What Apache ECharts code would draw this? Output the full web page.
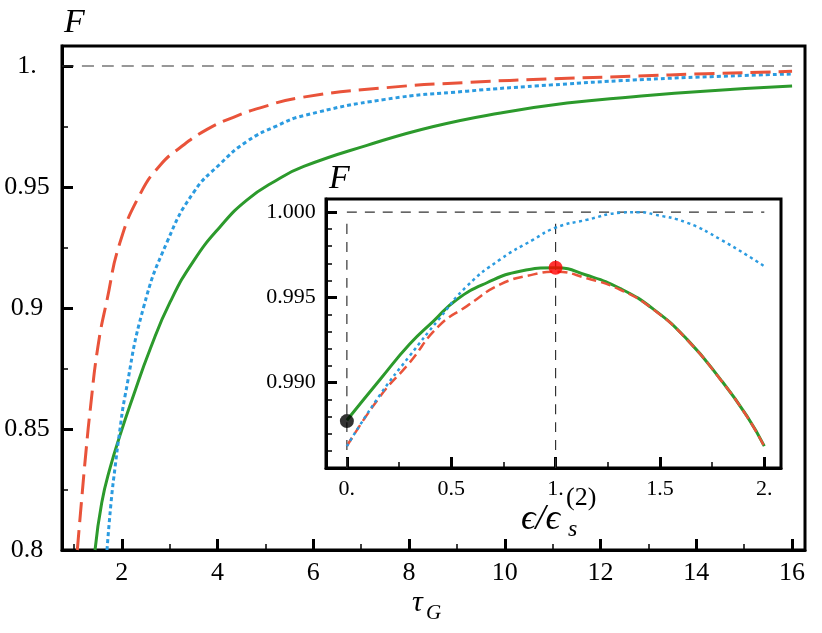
<!DOCTYPE html>
<html><head><meta charset="utf-8">
<script src="https://cdn.jsdelivr.net/npm/echarts@6/dist/echarts.min.js"></script>
<style>html,body{margin:0;padding:0;background:#fff}#c{width:822px;height:633px}</style>
</head><body><div id="c"></div><script>
// ---- main panel: ticks ----
const mainXTicks = [2, 4, 6, 8, 10, 12, 14, 16];
const mainXMinor = [1, 3, 5, 7, 9, 11, 13, 15];
const mainYTicks = [0.8, 0.85, 0.9, 0.95, 1.0];
const mainYTickLabels = ['0.8', '0.85', '0.9', '0.95', '1.'];
const mainYMinor = [0.825, 0.875, 0.925, 0.975];
// ---- main panel: curves F(tau_G) ----
const mainRed = [[1.07,0.8],[1.16,0.8207],[1.25,0.8405],[1.34,0.858],[1.50,0.884],[1.69,0.9033],[1.96,0.927],[2.38,0.947],[2.80,0.959],[3.22,0.9663],[3.78,0.9738],[4.33,0.9788],[4.89,0.9827],[5.72,0.9869],[7.5,0.991],[9.21,0.9932],[11,0.9947],[12.69,0.9958],[14.2,0.9968],[16,0.9978]];
const mainBlue = [[1.69,0.8],[1.78,0.8207],[1.86,0.8344],[1.95,0.8483],[2.07,0.864],[2.45,0.900],[2.95,0.9275],[3.50,0.9478],[4.05,0.9595],[4.61,0.9688],[5.24,0.9753],[5.8,0.9795],[7.5,0.9862],[9.21,0.9896],[11,0.9922],[12.69,0.9942],[14.3,0.9956],[16,0.9967]];
const mainGreen = [[1.44,0.8],[1.58,0.8195],[1.756,0.8340],[1.98,0.8485],[2.21,0.862],[2.6,0.8835],[3.01,0.9025],[3.50,0.9195],[4.05,0.9335],[4.61,0.9446],[5.24,0.9529],[5.8,0.9585],[7.12,0.9672],[8.51,0.975],[9.91,0.9806],[11.3,0.9847],[12.69,0.9873],[14.08,0.9895],[16,0.9917]];
const mainRef = [[0.75,1.0],[16,1.0]];
// ---- inset: ticks ----
const insetXTicks = [0, 0.5, 1, 1.5, 2];
const insetXTickLabels = ['0.', '0.5', '1.', '1.5', '2.'];
const insetXMinor = [0.25, 0.75, 1.25, 1.75];
const insetYTicks = [0.990, 0.995, 1.000];
const insetYTickLabels = ['0.990', '0.995', '1.000'];
const insetYMinor = [0.986,0.987,0.988,0.989,0.991,0.992,0.993,0.994,0.996,0.997,0.998,0.999];
// ---- inset: curves F(eps/eps_s) ----
const insetGreen = [[0,0.9878],[0.16,0.9902],[0.30,0.99225],[0.415,0.99361],[0.527,0.99488],[0.671,0.99586],[0.83,0.99654],[1.0,0.99674],[1.15,0.9963],[1.31,0.99552],[1.47,0.9943],[1.63,0.99254],[1.79,0.9902],[1.917,0.98804],[2.0,0.98628]];
const insetRed = [[0,0.98628],[0.16,0.98921],[0.30,0.99117],[0.44,0.99332],[0.575,0.99449],[0.735,0.99576],[0.895,0.99635],[1.0,0.99651],[1.15,0.99612],[1.31,0.99545],[1.47,0.99428],[1.63,0.99252],[1.79,0.99018],[1.917,0.98802],[2.0,0.98626]];
const insetBlue = [[0,0.98628],[0.16,0.98931],[0.30,0.99156],[0.44,0.99371],[0.575,0.99566],[0.735,0.99723],[0.895,0.9984],[1.0,0.99909],[1.15,0.99955],[1.31,0.99996],[1.4,1.0],[1.47,0.99987],[1.63,0.99938],[1.79,0.9984],[2.0,0.99683]];
const insetRefH = [[0,1.0],[2,1.0]];
const insetRefV0 = [[0,0.985],[0,0.9994]];
const insetRefV1 = [[1,0.985],[1,0.9994]];
const blackDot = [[0,0.98775]];
const redDot = [[1,0.99674]];

const RED = '#E9533A', BLUE = '#2B9BE0', GREEN = '#2C9A2C';
const SERIF = '"Liberation Serif","DejaVu Serif",serif';

function pick(vals, labels) {
  return v => { for (let i = 0; i < vals.length; i++) if (Math.abs(vals[i] - v) < 1e-9) return labels[i]; return ''; };
}
function majorAxis(gridIndex, min, max, ticks, fmt, isX, fontSize, margin) {
  return {
    type: 'value', gridIndex, min, max, position: isX ? 'bottom' : 'left',
    axisLine: { show: true, onZero: false, lineStyle: { color: '#000', width: 3 } },
    axisTick: { show: true, inside: true, length: 11, customValues: ticks, lineStyle: { color: '#000', width: 3 } },
    axisLabel: { show: true, customValues: ticks, formatter: fmt, color: '#000', fontFamily: SERIF, fontSize,
      margin, lineHeight: fontSize, align: 'center' },
    splitLine: { show: false }
  };
}
function minorAxis(gridIndex, min, max, ticks, isX) {
  return {
    type: 'value', gridIndex, min, max, position: isX ? 'bottom' : 'left',
    axisLine: { show: false, onZero: false },
    axisTick: { show: true, inside: true, length: 6, customValues: ticks, lineStyle: { color: '#000', width: 1.5 } },
    axisLabel: { show: false },
    splitLine: { show: false }
  };
}
function line(xi, yi, data, color, width, type, z) {
  return { type: 'line', xAxisIndex: xi, yAxisIndex: yi, data, showSymbol: false, symbol: 'none',
    smooth: 0.5, z: z || 3,
    lineStyle: { color, width, type } };
}
const chart = echarts.init(document.getElementById('c'), null, { renderer: 'canvas' });
chart.setOption({
  animation: false,
  backgroundColor: '#fff',
  grid: [
    { left: 62, top: 46, width: 743, height: 504, show: true, borderColor: '#000', borderWidth: 3, backgroundColor: 'transparent' },
    { left: 326, top: 199, width: 455, height: 269, show: true, borderColor: '#000', borderWidth: 3, backgroundColor: '#fff' }
  ],
  xAxis: [
    majorAxis(0, 0.75, 16.27, mainXTicks, v => String(v), true, 26, 10),
    minorAxis(0, 0.75, 16.27, mainXMinor, true),
    majorAxis(1, -0.1, 2.08, insetXTicks, pick(insetXTicks, insetXTickLabels), true, 22, 10),
    minorAxis(1, -0.1, 2.08, insetXMinor, true)
  ],
  yAxis: [
    majorAxis(0, 0.8, 1.00826, mainYTicks, pick(mainYTicks, mainYTickLabels), false, 26, 35),
    minorAxis(0, 0.8, 1.00826, mainYMinor, false),
    majorAxis(1, 0.985, 1.00077, insetYTicks, pick(insetYTicks, insetYTickLabels), false, 22, 35),
    minorAxis(1, 0.985, 1.00077, insetYMinor, false)
  ],
  series: [
    line(0, 0, mainRef, '#333', 1.2, [12, 8], 2),
    line(0, 0, mainGreen, GREEN, 3, 'solid'),
    line(0, 0, mainBlue, BLUE, 3, [4, 3]),
    line(0, 0, mainRed, RED, 3, [20, 8]),
    line(2, 2, insetRefH, '#333', 1.2, [10, 8], 2),
    line(2, 2, insetRefV0, '#333', 1.2, [10, 8], 2),
    line(2, 2, insetRefV1, '#333', 1.2, [10, 8], 2),
    line(2, 2, insetGreen, GREEN, 3, 'solid'),
    line(2, 2, insetRed, RED, 2.5, [10, 5]),
    line(2, 2, insetBlue, BLUE, 2.5, [3, 3.5]),
    { type: 'scatter', xAxisIndex: 2, yAxisIndex: 2, data: blackDot, symbolSize: 14, itemStyle: { color: '#000' }, z: 5 },
    { type: 'scatter', xAxisIndex: 2, yAxisIndex: 2, data: redDot, symbolSize: 14, itemStyle: { color: '#FF0000' }, z: 5 }
  ],
  graphic: [
    { type: 'text', left: 64, top: 6, style: { text: 'F', font: 'italic 34px ' + SERIF, fill: '#000' } },
    { type: 'text', left: 329, top: 162, style: { text: 'F', font: 'italic 34px ' + SERIF, fill: '#000' } },
    { type: 'text', left: 412, top: 588, style: { text: 'τ', font: 'italic 30px ' + SERIF, fill: '#000' } },
    { type: 'text', left: 426, top: 603, style: { text: 'G', font: 'italic 21px ' + SERIF, fill: '#000' } },
    { type: 'text', left: 521, top: 502, style: { text: 'ϵ/ϵ', font: 'italic 36px ' + SERIF, fill: '#000' } },
    { type: 'text', left: 566, top: 485, style: { text: '(2)', font: '26px ' + SERIF, fill: '#000' } },
    { type: 'text', left: 568, top: 518, style: { text: 's', font: 'italic 24px ' + SERIF, fill: '#000' } }
  ]
});
</script></body></html>
